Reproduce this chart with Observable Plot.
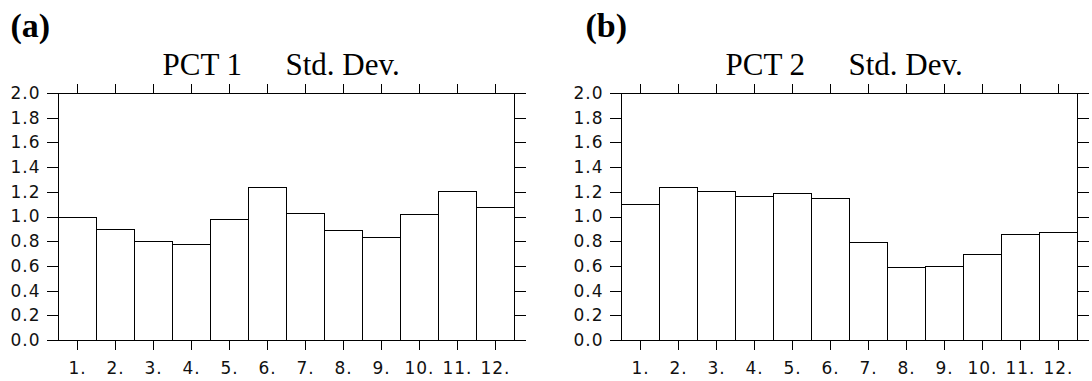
<!DOCTYPE html>
<html><head><meta charset="utf-8">
<script src="https://cdn.jsdelivr.net/npm/d3@7"></script>
<script src="https://cdn.jsdelivr.net/npm/@observablehq/plot@0.6"></script>
<style>
html,body{margin:0;padding:0;background:#fff;}
#wrap{position:relative;width:1092px;height:381px;background:#fff;}
#pa{position:absolute;left:0;top:0;}
#pb{position:absolute;left:563px;top:0;}
g[aria-label$="tick label"] text{letter-spacing:1px;}
svg rect, svg path, svg line{shape-rendering:crispEdges;}
</style></head><body><div id="wrap"><div id="pa"></div><div id="pb"></div></div>
<script>
const months = [1,2,3,4,5,6,7,8,9,10,11,12];
const monthLabels = ["1.","2.","3.","4.","5.","6.","7.","8.","9.","10.","11.","12."];
const pct1StdDev = [0.99,0.896,0.80,0.775,0.977,1.236,1.026,0.883,0.829,1.015,1.20,1.071];
const pct2StdDev = [1.096,1.231,1.20,1.16,1.19,1.144,0.788,0.583,0.597,0.69,0.856,0.869];
const yTicks = [0,0.2,0.4,0.6,0.8,1.0,1.2,1.4,1.6,1.8,2.0];
const panelLetters = ["(a)","(b)"];
const panelTitles = ["PCT 1","PCT 2"];
const statName = "Std. Dev.";

const tickFont = {fontSize:17, fontFamily:"DejaVu Sans", fontWeight:"normal", fill:"#111"};

function panel(values, letter, title, letterDx) {
  const data = months.map((m,i)=>({m, v: values[i]}));
  return Plot.plot({
    width:529, height:381,
    marginLeft:58, marginRight:15, marginTop:93, marginBottom:41,
    style:{background:"white", color:"black"},
    x:{domain:[0.5,12.5], axis:null},
    y:{domain:[0,2], axis:null},
    marks:[
      Plot.rect(data, {x1:d=>d.m-0.5, x2:d=>d.m+0.5, y1:0, y2:"v", fill:"white", stroke:"black", strokeWidth:1}),
      Plot.frame({stroke:"black", strokeWidth:1}),
      Plot.axisY({anchor:"left", ticks:yTicks, tickSize:11, tickPadding:7, tickFormat:d=>d.toFixed(1), label:null, ...tickFont}),
      Plot.axisY({anchor:"right", ticks:yTicks, tickSize:11, tickFormat:()=>"", label:null}),
      Plot.axisX({anchor:"bottom", ticks:months, tickSize:10, tickPadding:11, tickFormat:d=>monthLabels[months.indexOf(d)], label:null, ...tickFont}),
      Plot.axisX({anchor:"top", ticks:months, tickSize:10, tickFormat:()=>"", label:null}),
      Plot.text([letter], {frameAnchor:"top-left", dx:letterDx, dy:-57, textAnchor:"start", lineAnchor:"bottom", fontSize:34, fontWeight:"bold", fontFamily:"Liberation Serif", fill:"black"}),
      Plot.text([title], {frameAnchor:"top-left", dx:104, dy:-19, textAnchor:"start", lineAnchor:"bottom", fontSize:31, fontFamily:"Liberation Serif", fill:"black"}),
      Plot.text([statName], {frameAnchor:"top-left", dx:227, dy:-19, textAnchor:"start", lineAnchor:"bottom", fontSize:31, fontFamily:"Liberation Serif", fill:"black"})
    ]
  });
}
document.getElementById("pa").append(panel(pct1StdDev, panelLetters[0], panelTitles[0], -48));
document.getElementById("pb").append(panel(pct2StdDev, panelLetters[1], panelTitles[1], -36));
</script></body></html>
